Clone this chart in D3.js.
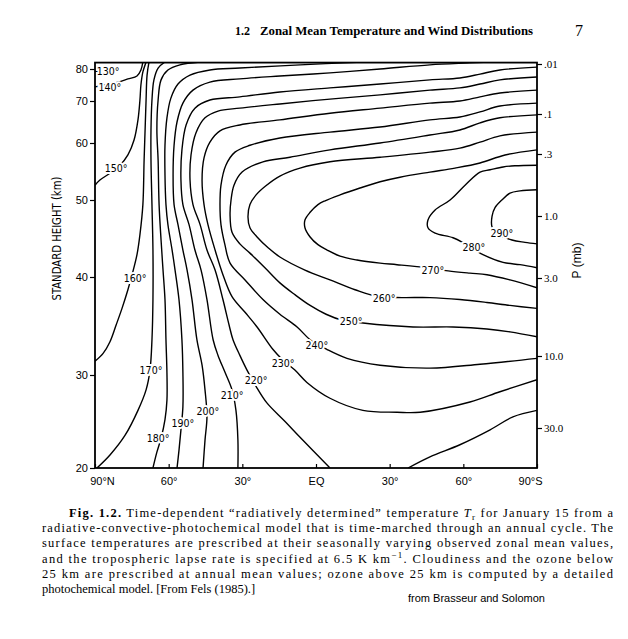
<!DOCTYPE html>
<html>
<head>
<meta charset="utf-8">
<script src="https://cdn.jsdelivr.net/npm/d3@7"></script>
<style>
  html, body { margin: 0; padding: 0; background: #fff; }
  svg { display: block; }
</style>
</head>
<body>
<div id="chart"></div>
<script>
const latTicks = [90, 60, 30, 0, -30, -60, -90];
const latLabels = ['90°N', '60°', '30°', 'EQ', '30°', '60°', '90°S'];
const heightTicks = [20, 30, 40, 50, 60, 70, 80];
const pressureTicks = [0.01, 0.1, 0.3, 1, 3, 10, 30];
const pressureLabels = ['.01', '.1', '.3', '1.0', '3.0', '10.0', '30.0'];

// isotherms as [latitude (+N / -S), standard height km]
const isotherm130 = [[90, 79.3], [88.4, 79.3]];
const isotherm140 = [[90, 74.4], [85.9, 75.0], [80.6, 75.9], [76.6, 76.9], [72.9, 77.8], [71.3, 79.7], [70.5, 82.2]];
const isotherm150 = [[90, 52.6], [88, 53.5], [83.9, 54.7], [79.8, 56.1], [76.6, 57.9], [74.1, 60.7], [72.5, 65.5], [71.7, 70.3], [71.3, 75.0], [70.5, 79.1], [69.2, 82.2]];
const isotherm160 = [[90, 31.4], [86.7, 32.2], [83.9, 33.4], [81.4, 35.1], [79, 36.8], [76.6, 38.7], [74.9, 40.3], [72.9, 42.9], [71.7, 45.5], [70.5, 49.4], [70.0, 57.0], [69.6, 63.1], [69.2, 70.3], [68.8, 78.1], [68.0, 82.2]];
const isotherm170 = [[89.2, 20], [83.9, 21.4], [77.8, 23.5], [72.5, 26.2], [69.2, 28.4], [67.6, 30.5], [66.8, 33.6], [66.4, 37.7], [66.4, 43.5], [66.8, 49.4], [67.2, 57.0], [67.2, 63.1], [66.8, 70.3], [66.0, 76.6], [64.3, 80.3], [61.5, 82.2]];
const isotherm180 = [[66.4, 20], [64.8, 21.7], [63.1, 23.2], [61.5, 25.2], [60.7, 27.3], [60.7, 30.2], [61.1, 33.6], [61.5, 37.7], [62.3, 40.9], [63.1, 44.8], [63.9, 49.4], [64.3, 57.0], [64.8, 63.1], [64.3, 70.3], [63.1, 76.6], [60.3, 79.7], [55.4, 81.3], [47.2, 82.2]];
const isotherm190 = [[56.6, 20], [55.8, 21.9], [55.0, 24.1], [54.2, 26.6], [54.2, 30.2], [54.6, 33.6], [55.8, 37.7], [57.4, 40.9], [58.6, 43.5], [60.3, 46.8], [61.1, 49.4], [61.5, 54.4], [61.5, 59.6], [60.7, 66.0], [59.1, 70.9], [56.2, 75.3], [51.3, 78.1], [43.2, 79.7], [31.0, 80.3], [6.5, 81.3], [-19.1, 82.2]];
const isotherm200 = [[46.0, 20], [45.2, 23.0], [44.4, 25.5], [45.2, 28.4], [46.4, 31.0], [48.5, 33.6], [50.5, 37.7], [52.5, 40.9], [54.2, 43.5], [56.2, 46.8], [57.8, 49.4], [58.2, 54.4], [57.8, 59.6], [56.6, 65.0], [54.2, 69.5], [50.1, 73.4], [43.2, 75.9], [31.0, 76.9], [14.7, 77.8], [-5.7, 78.8], [-26.1, 80], [-46.4, 81.3], [-62.7, 81.9], [-70.9, 82.2]];
const isotherm210 = [[31.8, 20], [31.8, 23.0], [32.6, 26.2], [34.2, 28.4], [37.1, 30.3], [39.9, 32.0], [41.9, 33.6], [44.4, 37.7], [46.8, 40.9], [49.3, 43.5], [51.7, 46.8], [54.2, 49.4], [55.0, 53.5], [54.6, 58.8], [52.9, 64.3], [49.3, 68.3], [43.2, 70.3], [31.0, 71.3], [14.7, 72.8], [-5.7, 74.1], [-26.1, 75.3], [-46.4, 76.6], [-58.6, 77.2], [-66.8, 78.4], [-74.9, 79.7], [-90, 80.6]];
const isotherm220 = [[-5.7, 20], [6.5, 23.3], [12.6, 25.0], [20.0, 27.0], [24.0, 28.6], [28.1, 30.5], [31.0, 32.0], [33.8, 33.6], [35.4, 35.1], [37.9, 37.7], [41.1, 40.9], [44.4, 43.5], [47.2, 46.8], [50.1, 49.4], [51.3, 53.5], [50.9, 57.9], [48.9, 62.4], [45.2, 66.0], [39.9, 67.6], [31.0, 68.3], [14.7, 69.3], [-5.7, 70.6], [-26.1, 71.9], [-46.4, 73.4], [-58.6, 74.1], [-66.8, 75.3], [-74.9, 76.6], [-90, 77.5]];
const isotherm230 = [[-90, 29.5], [-74.9, 28.2], [-62.7, 27.1], [-42.4, 26.0], [-33.0, 26.0], [-19.1, 26.2], [-5.7, 27.5], [3.7, 29.2], [8.6, 30.5], [13.4, 31.5], [17.5, 32.6], [24.0, 34.9], [28.9, 36.4], [34.2, 38.0], [37.9, 40.3], [41.1, 43.5], [44.0, 46.8], [45.6, 49.4], [46.4, 53.5], [45.6, 57.4], [43.2, 60.2], [39.1, 62.9], [31.0, 64.3], [14.7, 65.5], [-5.7, 67.1], [-26.1, 68.3], [-46.4, 69.5], [-58.6, 70], [-66.8, 71.3], [-74.9, 72.5], [-90, 73.4]];
const isotherm230South = [[-37.5, 20], [-46.4, 21.2], [-58.6, 22.5], [-70.9, 24.1], [-80.2, 25.5], [-90, 26.2]];
const isotherm240 = [[-90, 31.7], [-66.8, 31.1], [-46.4, 30.7], [-26.1, 31.0], [-12.6, 31.7], [-4.5, 32.6], [2.4, 33.6], [7.7, 34.9], [14.7, 36.2], [21.6, 37.7], [28.9, 39.7], [35.0, 41.8], [37.1, 44.2], [38.7, 46.8], [39.1, 49.4], [38.7, 52.6], [36.7, 56.1], [33.0, 58.4], [26.9, 59.6], [14.7, 61.2], [-5.7, 62.6], [-26.1, 63.8], [-46.4, 65.5], [-58.6, 66.2], [-66.8, 67.4], [-74.9, 68.8], [-90, 69.5]];
const isotherm250 = [[-90, 33.9], [-79.0, 34.4], [-69.6, 34.7], [-55.8, 34.9], [-39.5, 34.9], [-19.1, 35.3], [-10.6, 35.6], [-4.1, 36.2], [2.4, 37.1], [8.6, 38.2], [14.7, 39.4], [20.8, 41.2], [26.9, 43.1], [31.0, 44.3], [34.2, 45.8], [35.0, 48.1], [34.6, 50], [33.4, 52.6], [30.1, 54.9], [21.6, 56.7], [10.6, 57.5], [-5.7, 58.8], [-26.1, 60], [-46.4, 61.9], [-58.6, 63.1], [-66.8, 64.8], [-74.9, 66.0], [-90, 66.7]];
const isotherm260 = [[-90, 36.8], [-79.0, 37.1], [-69.6, 37.4], [-58.6, 37.7], [-46.4, 37.9], [-35.0, 37.9], [-25.2, 38.0], [-15.9, 38.7], [-5.7, 39.7], [4.5, 40.9], [14.7, 42.6], [19.5, 43.8], [24.0, 45.2], [26.9, 46.4], [27.7, 47.8], [26.9, 49.4], [24.4, 50.9], [20.4, 52.5], [14.7, 54.2], [6.5, 55.6], [-5.7, 56.7], [-26.1, 57.5], [-46.4, 58.4], [-58.6, 59.1], [-66.8, 60.2], [-74.9, 61.7], [-90, 62.6]];
const isotherm270 = [[-90, 38.9], [-79.0, 39.7], [-69.6, 40.3], [-62.7, 40.5], [-53.8, 40.8], [-45.2, 41.2], [-33.0, 41.6], [-26.1, 41.8], [-16.7, 42.2], [-9.8, 42.7], [-4.5, 43.5], [-0.8, 44.2], [2.4, 45.2], [4.5, 46.4], [4.5, 47.4], [2.4, 48.4], [-0.8, 49.4], [-3.7, 49.9], [-9.8, 50.9], [-17.9, 52.1], [-26.1, 53.2], [-34.2, 54.0], [-46.4, 54.9], [-56.6, 55.6], [-66.8, 56.5], [-77.0, 57.9], [-90, 58.8]];
const isotherm280 = [[-90, 41.2], [-83.1, 41.6], [-76.2, 41.9], [-68.0, 42.9], [-60.7, 44.3], [-55.8, 45.1], [-48.5, 45.7], [-45.6, 46.4], [-45.6, 47.4], [-48.5, 48.7], [-54.6, 50], [-60.7, 52.6], [-66.8, 54.9], [-70.9, 55.3], [-76.2, 55.8], [-81.0, 56.0], [-90, 56.1]];
const isotherm290 = [[-90, 44.3], [-85.1, 44.5], [-79.8, 44.8], [-74.1, 45.6], [-71.7, 46.5], [-71.7, 47.9], [-72.9, 49.0], [-75.7, 50], [-79.0, 51.2], [-83.1, 51.6], [-90, 51.8]];

// where each isotherm carries its value: [K, latitude, km]
const isothermLabels = [
  [130, 84.7, 79.4], [140, 83.9, 74.4], [150, 81.4, 55.6], [160, 73.7, 39.9],
  [170, 67.2, 30.5], [180, 64.3, 23.2], [190, 54.2, 24.8], [200, 44.0, 26.1],
  [210, 34.2, 27.8], [220, 24.4, 29.5], [230, 13.4, 31.2], [240, -0.4, 33.1],
  [250, -14.3, 35.5], [260, -27.7, 37.9], [270, -47.6, 40.9], [280, -64.3, 43.9],
  [290, -75.7, 45.7]
];

const captionLines = [
  'radiative-convective-photochemical model that is time-marched through an annual cycle. The',
  'surface temperatures are prescribed at their seasonally varying observed zonal mean values,',
  null,
  '25 km are prescribed at annual mean values; ozone above 25 km is computed by a detailed',
  'photochemical model. [From Fels (1985).]'
];

class IsothermChart {
  constructor(containerId = 'chart') {
    this.container = document.getElementById(containerId);
    this.width = 628;
    this.height = 639;
    this.x = d3.scaleLinear().domain([90, -90]).range([95, 537]);
    // the printed height and pressure axes are not evenly spaced, so both scales are piecewise
    this.y = d3.scaleLinear()
      .domain([20, 30, 40, 50, 60, 70, 80, 82])
      .range([468, 375, 277, 200, 143, 101, 69, 62.6]);
    this.p = d3.scaleLog()
      .domain([0.01, 0.1, 0.3, 1, 3, 10, 30])
      .range([64, 114, 154, 216, 278, 356, 428]);
    this.init();
  }
  init() {
    this.svg = d3.select(this.container)
      .append('svg')
      .attr('width', this.width)
      .attr('height', this.height)
      .style('background', '#fff');
    this.drawContours();
    this.drawAxes();
    this.drawText();
  }
  drawContours() {
    const [x0, x1] = this.x.range();
    const yTop = this.y(82), yBottom = this.y(20);
    this.svg.append('clipPath').attr('id', 'plot-clip')
      .append('rect')
      .attr('x', x0).attr('y', yTop)
      .attr('width', x1 - x0).attr('height', yBottom - yTop);
    const contours = [
      isotherm130, isotherm140, isotherm150, isotherm160, isotherm170, isotherm180,
      isotherm190, isotherm200, isotherm210, isotherm220, isotherm230, isotherm230South,
      isotherm240, isotherm250, isotherm260, isotherm270, isotherm280, isotherm290
    ];
    const line = d3.line()
      .x(d => this.x(d[0]))
      .y(d => this.y(d[1]))
      .curve(d3.curveCatmullRom.alpha(0.5));
    this.svg.append('g')
      .attr('clip-path', 'url(#plot-clip)')
      .attr('fill', 'none')
      .attr('stroke', '#000')
      .attr('stroke-width', 1.4)
      .selectAll('path')
      .data(contours)
      .join('path')
      .attr('d', line);
    this.svg.append('g')
      .attr('font-family', '"Liberation Sans Narrow", "DejaVu Sans Condensed", "Liberation Sans", sans-serif')
      .attr('font-size', 10.5)
      .attr('text-anchor', 'middle')
      .attr('dominant-baseline', 'central')
      .selectAll('text')
      .data(isothermLabels)
      .join('text')
      .attr('x', d => this.x(d[1]))
      .attr('y', d => this.y(d[2]))
      .attr('stroke', '#fff')
      .attr('stroke-width', 4)
      .attr('paint-order', 'stroke')
      .attr('fill', '#000')
      .text(d => `${d[0]}°`);
    this.svg.append('rect')
      .attr('x', x0).attr('y', yTop)
      .attr('width', x1 - x0).attr('height', yBottom - yTop)
      .attr('fill', 'none')
      .attr('stroke', '#000')
      .attr('stroke-width', 1.8);
  }
  drawAxes() {
    const sans = '"Liberation Sans", Arial, sans-serif';
    const left = this.svg.append('g')
      .attr('transform', `translate(${this.x(90)},0)`)
      .call(d3.axisLeft(this.y).tickValues(heightTicks).tickSize(5).tickPadding(2).tickFormat(d3.format('d')));
    const right = this.svg.append('g')
      .attr('transform', `translate(${this.x(-90)},0)`)
      .call(d3.axisRight(this.p).tickValues(pressureTicks).tickSize(5).tickPadding(2)
        .tickFormat((d, i) => pressureLabels[i]));
    const bottom = this.svg.append('g')
      .attr('transform', `translate(0,${this.y(20)})`)
      .call(d3.axisBottom(this.x).tickValues(latTicks).tickSizeInner(-4).tickSizeOuter(0).tickPadding(9)
        .tickFormat((d, i) => latLabels[i]));
    [left, right, bottom].forEach(g => {
      g.select('.domain').remove();
      g.selectAll('line').attr('stroke', '#000').attr('stroke-width', 1.2);
      g.selectAll('text').attr('fill', '#000').attr('font-size', 11).attr('font-family', sans);
    });
    right.selectAll('text').attr('font-family', '"Liberation Serif", "Times New Roman", serif');
    // the pole labels sit inside the frame on the scan
    bottom.selectAll('.tick text')
      .attr('dx', d => (d === 90 ? 7 : d === -90 ? -7 : 0));
    this.svg.append('text')
      .attr('transform', `translate(57,${this.y(45)}) rotate(-90)`)
      .attr('text-anchor', 'middle')
      .attr('dominant-baseline', 'central')
      .attr('font-family', '"Liberation Sans Narrow", "DejaVu Sans Condensed", sans-serif')
      .attr('font-size', 12)
      .attr('textLength', 124)
      .attr('lengthAdjust', 'spacingAndGlyphs')
      .text('STANDARD HEIGHT  (km)');
    this.svg.append('text')
      .attr('transform', `translate(577,${this.p(2.2)}) rotate(-90)`)
      .attr('text-anchor', 'middle')
      .attr('dominant-baseline', 'central')
      .attr('font-family', sans)
      .attr('font-size', 12)
      .text('P  (mb)');
  }
  drawText() {
    const serif = '"Liberation Serif", "Times New Roman", serif';
    const header = this.svg.append('g')
      .attr('font-family', serif)
      .attr('font-weight', 'bold')
      .attr('font-size', 12);
    header.append('text').attr('x', 235).attr('y', 35).text('1.2');
    header.append('text').attr('x', 260).attr('y', 35)
      .attr('textLength', 273).attr('lengthAdjust', 'spacingAndGlyphs')
      .text('Zonal Mean Temperature and Wind Distributions');
    this.svg.append('text')
      .attr('x', 575).attr('y', 36)
      .attr('font-family', serif)
      .attr('font-size', 16)
      .text('7');

    const caption = this.svg.append('g')
      .attr('font-family', serif)
      .attr('font-size', 12.5)
      .attr('fill', '#000');
    const first = caption.append('text')
      .attr('x', 69).attr('y', 517)
      .attr('textLength', 544).attr('lengthAdjust', 'spacing');
    first.append('tspan').attr('font-weight', 'bold').text('Fig. 1.2.');
    first.append('tspan').text(' Time-dependent “radiatively determined” temperature ');
    first.append('tspan').attr('font-style', 'italic').text('T');
    first.append('tspan').attr('font-size', 9).attr('dy', 3).text('r');
    first.append('tspan').attr('dy', -3).text(' for January 15 from a');

    const lineGap = 15.2;
    captionLines.forEach((t, i) => {
      const y = 517 + lineGap * (i + 1);
      const el = caption.append('text').attr('x', 42).attr('y', y);
      if (i < 4) el.attr('textLength', 571).attr('lengthAdjust', 'spacing');
      if (t === null) {
        el.append('tspan').text('and the tropospheric lapse rate is specified at 6.5 K km');
        el.append('tspan').attr('font-size', 9).attr('dy', -5).text('−1');
        el.append('tspan').attr('dy', 5).text('. Cloudiness and the ozone below');
      } else {
        el.text(t);
      }
    });
    this.svg.append('text')
      .attr('x', 408).attr('y', 602)
      .attr('font-family', '"Liberation Sans", Arial, sans-serif')
      .attr('font-size', 11)
      .text('from Brasseur and Solomon');
  }
}

const isothermChart = new IsothermChart('chart');
</script>
</body>
</html>
